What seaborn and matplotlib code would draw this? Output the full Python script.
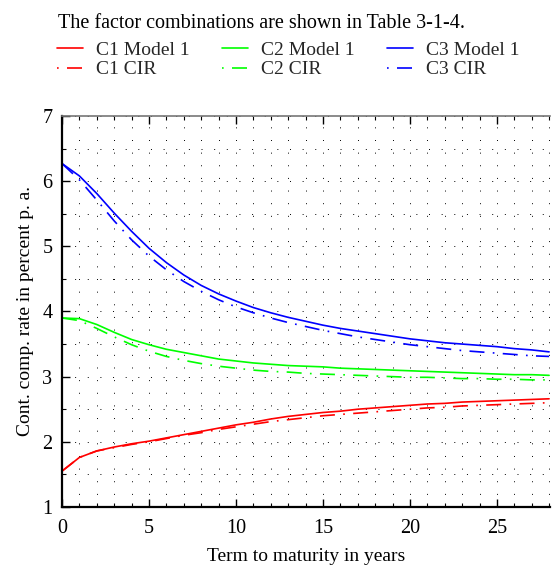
import numpy as np
import pandas as pd
import seaborn as sns
import matplotlib
matplotlib.use("Agg")
import matplotlib.pyplot as plt
from matplotlib.ticker import MultipleLocator
from matplotlib.lines import Line2D

years = list(range(0, 29))
c1_model1 = [1.55, 1.76, 1.86, 1.92, 1.97, 2.01, 2.06, 2.11, 2.16, 2.21, 2.26, 2.30, 2.35, 2.39, 2.42,
             2.45, 2.47, 2.50, 2.52, 2.54, 2.56, 2.58, 2.59, 2.61, 2.62, 2.63, 2.64, 2.65, 2.66]
c1_cir = [1.55, 1.76, 1.86, 1.91, 1.96, 2.00, 2.05, 2.10, 2.14, 2.19, 2.23, 2.27, 2.31, 2.34, 2.37,
          2.40, 2.42, 2.44, 2.46, 2.48, 2.50, 2.52, 2.53, 2.55, 2.56, 2.57, 2.58, 2.59, 2.60]
c2_model1 = [3.90, 3.89, 3.80, 3.68, 3.57, 3.49, 3.42, 3.37, 3.32, 3.27, 3.24, 3.21, 3.19, 3.17, 3.16,
             3.15, 3.13, 3.12, 3.11, 3.10, 3.09, 3.08, 3.07, 3.06, 3.05, 3.04, 3.03, 3.03, 3.02]
c2_cir = [3.90, 3.86, 3.74, 3.61, 3.49, 3.39, 3.31, 3.25, 3.20, 3.16, 3.13, 3.10, 3.08, 3.07, 3.05,
          3.04, 3.03, 3.02, 3.01, 3.00, 2.99, 2.99, 2.98, 2.97, 2.97, 2.96, 2.96, 2.95, 2.95]
c3_model1 = [6.27, 6.08, 5.81, 5.51, 5.23, 4.97, 4.75, 4.56, 4.40, 4.27, 4.16, 4.06, 3.98, 3.91, 3.85,
             3.79, 3.74, 3.70, 3.66, 3.62, 3.58, 3.55, 3.52, 3.50, 3.48, 3.46, 3.43, 3.41, 3.38]
c3_cir = [6.27, 6.02, 5.71, 5.39, 5.10, 4.85, 4.64, 4.46, 4.31, 4.18, 4.07, 3.98, 3.90, 3.83, 3.77,
          3.71, 3.66, 3.61, 3.57, 3.53, 3.49, 3.46, 3.43, 3.40, 3.38, 3.36, 3.34, 3.32, 3.31]

series = [
    ("C1 Model 1", c1_model1, "#ff0000", "-"),
    ("C1 CIR", c1_cir, "#ff0000", "cir"),
    ("C2 Model 1", c2_model1, "#00ff00", "-"),
    ("C2 CIR", c2_cir, "#00ff00", "cir"),
    ("C3 Model 1", c3_model1, "#0000ff", "-"),
    ("C3 CIR", c3_cir, "#0000ff", "cir"),
]

sns.set_theme(style="white")
plt.rcParams["font.family"] = ["Liberation Serif", "DejaVu Serif"]

fig = plt.figure(figsize=(5.52, 5.69), dpi=100)
ax = fig.add_axes([0.1123, 0.1090, 0.884, 0.6872])

cir_dash = (0, (9, 5, 1, 5))
legend_dash = (14, (9, 5, 1, 5))
handles, labels = [], []
for name, vals, col, ls in series:
    df = pd.DataFrame({"t": years, "r": vals})
    sns.lineplot(data=df, x="t", y="r", ax=ax, color=col, linewidth=1.2,
                 linestyle=(cir_dash if ls == "cir" else "-"), legend=False)
    handles.append(Line2D([], [], color=col, linewidth=1.2,
                          linestyle=(legend_dash if ls == "cir" else "-")))
    labels.append(name)

ax.set_xlim(0, 28.05)
ax.set_ylim(1, 7)
ax.xaxis.set_major_locator(MultipleLocator(5))
ax.xaxis.set_minor_locator(MultipleLocator(1))
ax.yaxis.set_major_locator(MultipleLocator(1))
ax.yaxis.set_minor_locator(MultipleLocator(0.5))
ax.grid(which="both", color="black", linestyle=(0, (1, 12)), linewidth=0.7)
ax.tick_params(which="major", direction="in", length=6, width=1.0, color="black",
               labelsize=14.5, top=True, bottom=True, left=True, right=False, labelcolor="black")
ax.tick_params(which="minor", direction="in", length=3, width=0.8, color="black",
               top=True, bottom=True, left=True, right=False)
ax.tick_params(axis="x", pad=9)
ax.tick_params(axis="y", pad=7)
for s in ["left", "bottom"]:
    ax.spines[s].set_color("black")
    ax.spines[s].set_linewidth(1.6)
ax.spines["top"].set_color("#777777")
ax.spines["top"].set_linewidth(1.2)
ax.spines["right"].set_visible(False)

ax.set_xlabel("Term to maturity in years", fontsize=14, color="black", labelpad=7)
ax.set_ylabel("Cont. comp. rate in percent p. a.", fontsize=14, color="black", labelpad=6)

fig.text(0.105, 0.958, "The factor combinations are shown in Table 3-1-4.", fontsize=14.5,
         color="black", ha="left", va="center")
fig.legend(handles, labels, ncol=3, loc="upper left", bbox_to_anchor=(0.104, 0.927),
           frameon=False, fontsize=14, handlelength=1.3, handletextpad=0.67,
           columnspacing=1.7, labelspacing=0.08, borderaxespad=0, borderpad=0)

fig.savefig("out.png", dpi=100)
